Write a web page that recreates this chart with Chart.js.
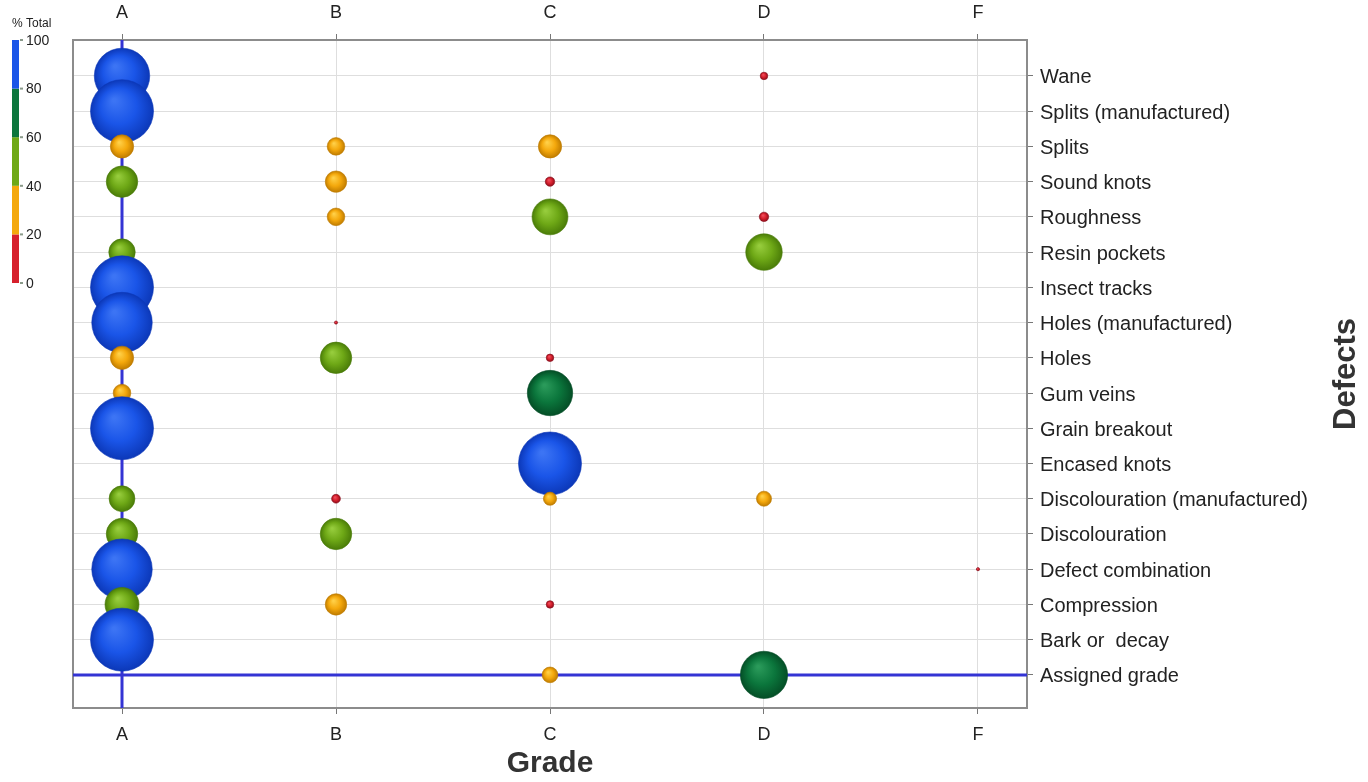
<!DOCTYPE html>
<html>
<head>
<meta charset="utf-8">
<script src="https://cdn.jsdelivr.net/npm/chart.js@4/dist/chart.umd.min.js"></script>
<style>
  body { margin: 0; background: #fff; }
  #wrap { width: 1368px; height: 782px; }
</style>
</head>
<body>
<div id="wrap"><canvas id="chart" width="1368" height="782"></canvas></div>
<script>
// grades along the x axis
const grades = ['A', 'B', 'C', 'D', 'F'];

// defects, top row first
const defects = [
    'Wane', 'Splits (manufactured)', 'Splits', 'Sound knots', 'Roughness',
    'Resin pockets', 'Insect tracks', 'Holes (manufactured)', 'Holes', 'Gum veins',
    'Grain breakout', 'Encased knots', 'Discolouration (manufactured)', 'Discolouration',
    'Defect combination', 'Compression', 'Bark or  decay', 'Assigned grade'
];

// % of total per defect row, one array per grade (null = no bubble)
const pctA = [88, 100, 37, 50, null, 42, 100, 96, 37, 28, 100, null, 41, 50, 96, 54, 100, null];
const pctB = [null, null, 28, 34, 28, null, null, 4, 50, null, null, null, 14, 50, null, 34, null, null];
const pctC = [null, null, 37, 15, 57, null, null, null, 12, 72, null, 100, 21, null, null, 12, null, 25];
const pctD = [12, null, null, null, 15, 58, null, null, null, null, null, null, 24, null, null, null, null, 75];
const pctF = [null, null, null, null, null, null, null, null, null, null, null, null, null, null, 4, null, null, null];
const pctByGrade = [pctA, pctB, pctC, pctD, pctF];

// colour legend
const legendTitle = '% Total';
const legendTicks = [0, 20, 40, 60, 80, 100];

// reference cross lines
const crossGrade = 'A';
const crossDefect = 'Assigned grade';

// colours for each 20% band: flat, light, dark
const bands = [
    { flat: '#d6202c', light: '#f05060', dark: '#8e0e1c' },
    { flat: '#f4a80c', light: '#ffd048', dark: '#c07c00' },
    { flat: '#6ea816', light: '#96cc3c', dark: '#4a7c08' },
    { flat: '#0b763c', light: '#2a9a5a', dark: '#044e26' },
    { flat: '#1a55e8', light: '#3c74f4', dark: '#0c38b8' }
];
const bandOf = p => bands[Math.min(4, Math.floor(p / 20))];

const rScale = 0.315;
const nRows = defects.length;
const yOf = i => nRows - 1 - i;
const xMin = -0.229, xMax = 4.229;
const yMin = -0.94, yMax = 18.02;

const datasets = pctByGrade.map((arr, g) => ({
    type: 'bubble',
    label: grades[g],
    order: 0,
    data: arr.map((p, i) => p == null ? null : { x: g, y: yOf(i), r: Math.max(1.6, p * rScale), pct: p })
             .filter(d => d),
    backgroundColor: ctx => {
        const raw = ctx.raw;
        if (!raw) return '#888';
        const b = bandOf(raw.pct);
        const c = ctx.chart;
        if (!c.scales.x || !c.chartArea) return b.flat;
        const px = c.scales.x.getPixelForValue(raw.x);
        const py = c.scales.y.getPixelForValue(raw.y);
        const r = raw.r;
        const grd = c.ctx.createRadialGradient(px - r * 0.25, py - r * 0.35, r * 0.05, px, py, r);
        grd.addColorStop(0, b.light);
        grd.addColorStop(0.55, b.flat);
        grd.addColorStop(1, b.dark);
        return grd;
    },
    borderColor: ctx => ctx.raw ? bandOf(ctx.raw.pct).dark : '#888',
    borderWidth: 0.6
}));

const cx = grades.indexOf(crossGrade);
const cy = yOf(defects.indexOf(crossDefect));
const lineStyle = { type: 'line', order: 10, borderColor: '#3434d4', borderWidth: 3, pointRadius: 0, fill: false };
datasets.push({ ...lineStyle, label: 'v', data: [{ x: cx, y: yMin }, { x: cx, y: yMax }] });
datasets.push({ ...lineStyle, label: 'h', data: [{ x: xMin, y: cy }, { x: xMax, y: cy }] });

const tickFont = { family: '"Liberation Sans", Arial, sans-serif', size: 18 };

const frame = {
    id: 'frame',
    beforeDatasetsDraw(chart) {
        const { ctx, chartArea: a } = chart;
        ctx.save();
        ctx.strokeStyle = '#8c8c8c';
        ctx.lineWidth = 2;
        ctx.strokeRect(a.left, a.top, a.right - a.left, a.bottom - a.top);
        ctx.restore();
    },
    afterDraw(chart) {
        const { ctx, chartArea: a } = chart;
        ctx.save();
        // "Defects" title reading upwards
        ctx.translate(1346, (a.top + a.bottom) / 2);
        ctx.rotate(-Math.PI / 2);
        ctx.font = 'bold 31px "Liberation Sans", Arial, sans-serif';
        ctx.fillStyle = '#333';
        ctx.textAlign = 'center';
        ctx.textBaseline = 'middle';
        ctx.fillText('Defects', 0, 0);
        ctx.restore();

        // colour legend
        const top = a.top, h = 243, x0 = 12, w = 7;
        const yv = v => top + h * (1 - v / 100);
        ctx.save();
        for (let i = 0; i < legendTicks.length - 1; i++) {
            ctx.fillStyle = bands[i].flat;
            ctx.fillRect(x0, yv(legendTicks[i + 1]), w, yv(legendTicks[i]) - yv(legendTicks[i + 1]));
        }
        ctx.font = '14px "Liberation Sans", Arial, sans-serif';
        ctx.textBaseline = 'middle';
        legendTicks.forEach(v => {
            ctx.fillStyle = '#8a9a8a';
            ctx.fillRect(x0 + w + 1, yv(v) - 1, 3, 2);
            ctx.fillStyle = '#222';
            ctx.fillText(String(v), x0 + w + 7, yv(v) + 1);
        });
        ctx.font = '12px "Liberation Sans", Arial, sans-serif';
        ctx.fillText(legendTitle, 12, 24);
        ctx.restore();
    }
};

new Chart(document.getElementById('chart'), {
    data: { datasets },
    options: {
        responsive: false,
        animation: false,
        events: [],
        layout: { padding: { left: 73 } },
        plugins: {
            legend: { display: false },
            tooltip: { enabled: false }
        },
        scales: {
            x: {
                type: 'linear',
                position: 'bottom',
                min: xMin,
                max: xMax,
                afterBuildTicks: s => { s.ticks = grades.map((g, i) => ({ value: i })); },
                afterFit: s => { s.height = 74; },
                ticks: { callback: v => grades[v], font: tickFont, color: '#222', padding: 10, maxRotation: 0 },
                grid: { color: '#dedede', tickColor: '#777', tickLength: 6 },
                border: { display: false },
                title: {
                    display: true,
                    text: 'Grade',
                    color: '#333',
                    font: { family: '"Liberation Sans", Arial, sans-serif', size: 30, weight: 'bold' },
                    padding: { top: 0, bottom: 0 }
                }
            },
            x2: {
                type: 'linear',
                position: 'top',
                min: xMin,
                max: xMax,
                afterBuildTicks: s => { s.ticks = grades.map((g, i) => ({ value: i })); },
                afterFit: s => { s.height = 40; },
                ticks: { callback: v => grades[v], font: tickFont, color: '#222', padding: 10, maxRotation: 0 },
                grid: { drawOnChartArea: false, tickColor: '#777', tickLength: 6 },
                border: { display: false }
            },
            y: {
                type: 'linear',
                position: 'right',
                min: yMin,
                max: yMax,
                afterBuildTicks: s => { s.ticks = defects.map((d, i) => ({ value: yOf(i) })); },
                afterFit: s => { s.width = 341; },
                ticks: {
                    callback: v => defects[nRows - 1 - v],
                    font: { family: '"Liberation Sans", Arial, sans-serif', size: 20 },
                    color: '#222',
                    padding: 7,
                    labelOffset: 2
                },
                grid: { color: '#dedede', tickColor: '#777', tickLength: 6 },
                border: { display: false }
            }
        }
    },
    plugins: [frame]
});
</script>
</body>
</html>
